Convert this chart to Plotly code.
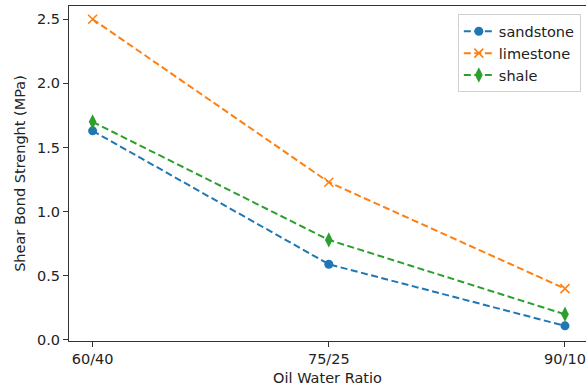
import plotly.graph_objects as go

ratios = ["60/40", "75/25", "90/10"]
sandstone = [1.63, 0.59, 0.11]
limestone = [2.50, 1.23, 0.40]
shale = [1.70, 0.78, 0.20]
y_ticks = [0.0, 0.5, 1.0, 1.5, 2.0, 2.5]

colors = {"sandstone": "#1f77b4", "limestone": "#ff7f0e", "shale": "#2ca02c"}

x_idx = list(range(len(ratios)))
fig = go.Figure()
for name, vals in [("sandstone", sandstone), ("limestone", limestone), ("shale", shale)]:
    c = colors[name]
    if name == "limestone":
        marker = dict(symbol="x-thin-open", size=9, color=c, line=dict(color=c, width=1.5))
    elif name == "shale":
        marker = dict(symbol="diamond-tall", size=11, color=c, line=dict(width=0))
    else:
        marker = dict(symbol="circle", size=9, color=c, line=dict(width=0))
    fig.add_trace(go.Scatter(
        x=x_idx, y=vals, name=name, mode="lines+markers",
        line=dict(color=c, width=2, dash="7px,3.5px"),
        marker=marker,
    ))

font = dict(family="DejaVu Sans", size=14.5, color="#222")
fig.update_layout(
    width=586, height=389,
    margin=dict(l=69, r=0, t=6, b=48),
    plot_bgcolor="white", paper_bgcolor="white",
    font=font,
    showlegend=True,
    legend=dict(x=0.99, y=0.975, xanchor="right", yanchor="top",
                bgcolor="rgba(255,255,255,0.8)", bordercolor="#d0d0d0", borderwidth=1,
                font=font, tracegroupgap=0),
    xaxis=dict(
        range=[-0.1, 2.089],
        tickvals=x_idx, ticktext=ratios,
        showgrid=False, zeroline=False,
        showline=True, linecolor="#333", linewidth=1, mirror=True,
        ticks="outside", ticklen=5, tickcolor="#333",
        title=dict(text="Oil Water Ratio", standoff=6, font=font),
    ),
    yaxis=dict(
        range=[-0.008, 2.603],
        tickvals=y_ticks, ticktext=[f"{v:.1f}" for v in y_ticks],
        showgrid=False, zeroline=False,
        showline=True, linecolor="#333", linewidth=1,
        ticks="outside", ticklen=5, tickcolor="#333",
        title=dict(text="Shear Bond Strenght (MPa)", standoff=7, font=font),
    ),
)
fig.write_html("out.html")
